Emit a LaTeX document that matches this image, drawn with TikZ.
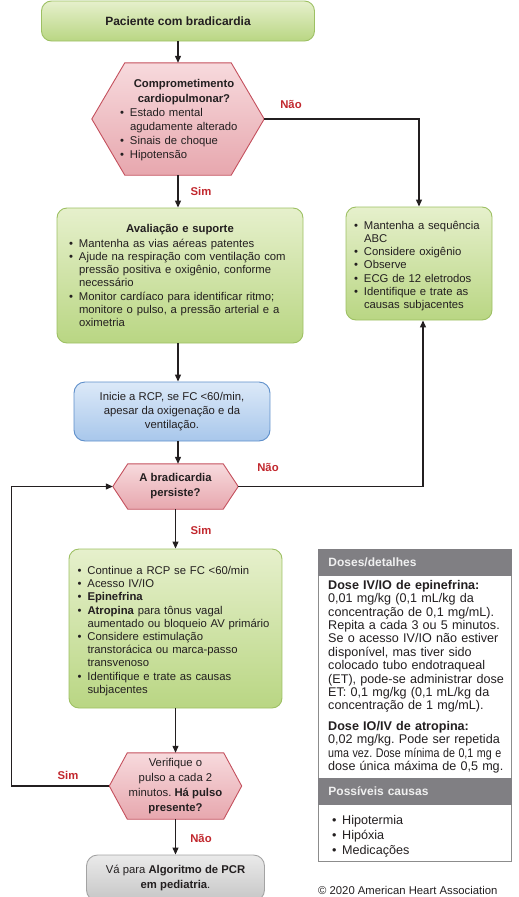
\documentclass[tikz,border=0pt]{standalone}
\usepackage{fontspec}
\usepackage{graphicx}
\setmainfont{Liberation Sans}
\usetikzlibrary{arrows.meta,backgrounds}
\frenchspacing
\definecolor{ink}{HTML}{231F20}
\definecolor{lblred}{HTML}{C1272D}
\definecolor{gtop}{HTML}{E6F0CC}
\definecolor{gbot}{HTML}{B9D683}
\definecolor{gline}{HTML}{9DC063}
\definecolor{ptop}{HTML}{F7DADD}
\definecolor{pbot}{HTML}{E7A7AE}
\definecolor{pline}{HTML}{C4505D}
\definecolor{btop}{HTML}{DCE9F8}
\definecolor{bbot}{HTML}{A8C7EB}
\definecolor{bline}{HTML}{5E8FCA}
\definecolor{ytop}{HTML}{EAEAEA}
\definecolor{ybot}{HTML}{C6C6C6}
\definecolor{yline}{HTML}{A3A3A3}
\definecolor{hdrgray}{HTML}{807F83}
\definecolor{hdrtext}{HTML}{F0F0F0}
\definecolor{framegray}{HTML}{8C8C8C}
\newcommand\itm{\par\noindent\hangindent=10pt\hangafter=1\makebox[10pt][l]{\textbullet}}
\newcommand\hexpath[2]{\path[hexshape] (#1.west) -- ([xshift=#2pt]#1.north west) -- ([xshift=-#2pt]#1.north east) -- (#1.east) -- ([xshift=-#2pt]#1.south east) -- ([xshift=#2pt]#1.south west) -- cycle;}
\tikzset{
 base/.style={inner sep=0pt, text=ink, font=\fontsize{11.3}{13.2}\selectfont},
 greenbox/.style={base, draw=gline, line width=0.9pt, rounded corners=10pt, top color=gtop, bottom color=gbot},
 bluebox/.style={base, draw=bline, line width=0.9pt, rounded corners=11pt, top color=btop, bottom color=bbot, align=center},
 graybox/.style={base, draw=yline, line width=0.9pt, rounded corners=11pt, top color=ytop, bottom color=ybot, align=center},
 hexnode/.style={base, align=center},
 hexshape/.style={draw=pline, line width=0.9pt, top color=ptop, bottom color=pbot},
 lbl/.style={text=lblred, font=\fontsize{11.3}{13}\selectfont\bfseries, inner sep=0pt},
 arr/.style={draw=ink, line width=1.2pt, -{Triangle[length=7pt,width=6pt]}},
 hdr/.style={base, fill=hdrgray, draw=hdrgray, line width=0.9pt, text=hdrtext, font=\fontsize{12}{14}\selectfont\bfseries, align=left, anchor=north west},
 dtext/.style={base, font=\fontsize{12.6}{13.4}\selectfont, align=left, anchor=north west},
}
\begin{document}
\begin{tikzpicture}[x=1pt,y=-1pt]
\useasboundingbox (0,0) rectangle (519,897);
% main column
\node[greenbox, minimum width=273pt, minimum height=40pt, font=\fontsize{12}{14}\selectfont\bfseries] (start) at (178,21) {Paciente com bradicardia};
\node[hexnode, minimum width=172pt, minimum height=112pt] (h1) at (178,119) {};
\hexpath{h1}{33}
\node[base, text width=128pt, align=left, font=\fontsize{11.3}{14.2}\selectfont] (h1t) at (184,120.5) {{\centering\bfseries Comprometimento\\ cardiopulmonar?\par}\itm Estado mental\newline agudamente alterado\itm Sinais de choque\itm Hipotensão\par};
\node[greenbox, minimum width=146pt, minimum height=113pt, text width=130pt, align=left] (nobox) at (419,263.5) {\itm Mantenha a sequência\newline ABC\itm Considere oxigênio\itm Observe\itm ECG de 12 eletrodos\itm Identifique e trate as\newline causas subjacentes\par};
\node[greenbox, minimum width=246pt, minimum height=135pt, text width=222pt, align=left] (assess) at (180,275.5) {{\centering\bfseries Avaliação e suporte\par}\vspace{1.5pt}\itm Mantenha as vias aéreas patentes\itm Ajude na respiração com ventilação com\newline pressão positiva e oxigênio, conforme\newline necessário\itm Monitor cardíaco para identificar ritmo;\newline monitore o pulso, a pressão arterial e a\newline oximetria\par};
\node[bluebox, minimum width=196pt, minimum height=59pt, font=\fontsize{11.3}{14}\selectfont] (cpr) at (172,411.5) {Inicie a RCP, se FC <60/min,\\ apesar da oxigenação e da\\ ventilação.};
\node[hexnode, minimum width=125pt, minimum height=45pt, font=\fontsize{11.3}{15}\selectfont\bfseries] (h2) at (175.5,486.5) {A bradicardia\\ persiste?};
\begin{scope}[on background layer]\hexpath{h2}{15}\end{scope}
\node[greenbox, minimum width=213pt, minimum height=159pt, text width=196pt, align=left] (act) at (175.5,628.5) {\itm Continue a RCP se FC <60/min\itm Acesso IV/IO\itm \textbf{Epinefrina}\itm \textbf{Atropina} para tônus vagal\newline aumentado ou bloqueio AV primário\itm Considere estimulação\newline transtorácica ou marca-passo\newline transvenoso\itm Identifique e trate as causas\newline subjacentes\par};
\node[hexnode, minimum width=132pt, minimum height=66pt, font=\fontsize{11.3}{15}\selectfont] (h3) at (175.5,786) {Verifique o\\ pulso a cada 2\\ minutos. \textbf{Há pulso}\\ \textbf{presente?}};
\begin{scope}[on background layer]\hexpath{h3}{18}\end{scope}
\node[graybox, minimum width=178pt, minimum height=46pt, font=\fontsize{11.3}{15}\selectfont] (goto) at (175.5,878) {Vá para \textbf{Algoritmo de PCR}\\ \textbf{em pediatria}.};
% labels
\node[lbl] (l1) at (291,104) {Não};
\node[lbl] (l2) at (201,191) {Sim};
\node[lbl] (l3) at (268,467) {Não};
\node[lbl] (l4) at (201,530) {Sim};
\node[lbl] (l5) at (68,775) {Sim};
\node[lbl] (l6) at (201,838) {Não};
% connectors
\draw[arr] (start.south) -- (start.south |- h1.north);
\draw[arr] (h1.east) -| (nobox.north);
\draw[arr] (h1.south) -- (h1.south |- assess.north);
\draw[arr] (assess.south -| h1.south) -- (cpr.north -| h1.south);
\draw[arr] (cpr.south -| h1.south) -- (h2.north -| h1.south);
\draw[arr] (h2.south) -- (h2.south |- act.north);
\draw[arr] (act.south) -- (act.south |- h3.north);
\draw[arr] (h3.south) -- (h3.south |- goto.north);
\draw[arr] (h2.east) -| ([xshift=4pt]nobox.south);
\draw[arr] (h3.west) -- ++(-98,0) |- (h2.west);
% doses panel
\node[base, draw=framegray, line width=0.9pt, fill=white, minimum width=193pt, minimum height=312pt, anchor=north west] (doses) at (318,549) {};
\node[hdr, minimum width=193pt, minimum height=26pt, text width=173pt, inner xsep=10pt] (dh1) at (doses.north west) {Doses/detalhes};
\node[dtext, text width=184pt] (dose1) at (328,580) {\textbf{Dose IV/IO de epinefrina:}\\ 0,01 mg/kg (0,1 mL/kg da\\ concentração de 0,1 mg/mL).\\ Repita a cada 3 ou 5 minutos.\\ Se o acesso IV/IO não estiver\\ disponível, mas tiver sido\\ colocado tubo endotraqueal\\ (ET), pode-se administrar dose\\ ET: 0,1 mg/kg (0,1 mL/kg da\\ concentração de 1 mg/mL).};
\node[dtext, text width=184pt] (dose2) at (328,721) {\textbf{Dose IO/IV de atropina:}\\ 0,02 mg/kg. Pode ser repetida\\ \scalebox{0.85}[1]{uma vez. Dose mínima de 0,1 mg e}\\ dose única máxima de 0,5 mg.};
\node[hdr, minimum width=193pt, minimum height=26pt, text width=173pt, inner xsep=10pt] (dh2) at (318,778) {Possíveis causas};
\node[dtext, text width=170pt, font=\fontsize{12.6}{15}\selectfont] (causes) at (332,809) {\itm Hipotermia\itm Hipóxia\itm Medicações\par};
\node[base, anchor=north west, font=\fontsize{11.3}{13}\selectfont] (copy) at (318,886) {© 2020 American Heart Association};
\end{tikzpicture}
\end{document}
